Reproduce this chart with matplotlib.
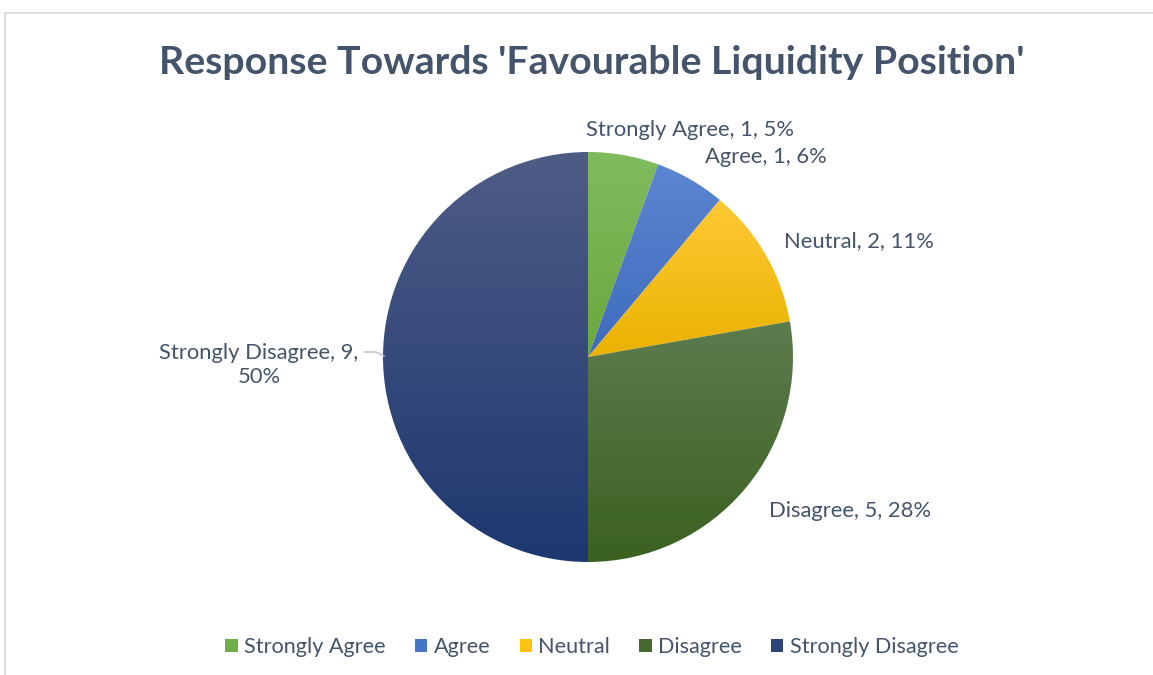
import numpy as np
import matplotlib
matplotlib.use("Agg")
import matplotlib.pyplot as plt
from matplotlib.colors import LinearSegmentedColormap
from matplotlib.patches import Patch
from matplotlib.lines import Line2D

# ---- data ----
categories = ["Strongly Agree", "Agree", "Neutral", "Disagree", "Strongly Disagree"]
counts = [1, 1, 2, 5, 9]
pct_labels = ["5%", "6%", "11%", "28%", "50%"]
title = "Response Towards 'Favourable Liquidity Position'"

# colours (top, bottom of gradient)
grad_top = ["#80bb5e", "#5c86d2", "#ffc936", "#5d7c4f", "#4f5c86"]
grad_bot = ["#6aa83f", "#3e6bbd", "#eab200", "#3b6120", "#1d3870"]
legend_cols = ["#72ae48", "#4674c6", "#fcc20e", "#47692f", "#2a4479"]

text_col = "#44546a"
FONT = "Lato"

W, H = 1153, 675
fig = plt.figure(figsize=(W / 100, H / 100), dpi=100)
ax = fig.add_axes([0, 0, 1, 1])

cx, cy, R = 588, H - 357, 205
wedges, _ = ax.pie(counts, startangle=90, counterclock=False,
                   center=(cx, cy), radius=R,
                   wedgeprops=dict(linewidth=0, edgecolor="none"))
ax.set_xlim(0, W)
ax.set_ylim(0, H)
ax.set_aspect("equal", adjustable="box")
ax.axis("off")

for w, ct, cb in zip(wedges, grad_top, grad_bot):
    w.set_facecolor("none")
    ext = w.get_path().get_extents(w.get_transform() - ax.transData)
    cmap = LinearSegmentedColormap.from_list("g", [cb, ct])
    grad = np.linspace(0, 1, 256).reshape(-1, 1)
    im = ax.imshow(grad, cmap=cmap, origin="lower", aspect="auto",
                   extent=[ext.x0, ext.x1, ext.y0, ext.y1], zorder=1,
                   interpolation="bilinear")
    im.set_clip_path(w)
ax.set_xlim(0, W)
ax.set_ylim(0, H)

# data labels
labels = [f"{c}, {n}, {p}" for c, n, p in zip(categories, counts, pct_labels)]
labels[4] = f"{categories[4]}, {counts[4]},\n{pct_labels[4]}"
label_pos = [(690, 130), (766, 157), (859, 241), (850, 511), (259, 365)]
for lab, (x, y) in zip(labels, label_pos):
    ax.text(x, H - y, lab, ha="center", va="center", fontsize=15.8,
            color=text_col, family=FONT, linespacing=1.3, zorder=5)

# leader line for Strongly Disagree
ax.plot([364, 376, 384], [H - 352, H - 352, H - 356], color="#b8bcc4",
        lw=1.0, zorder=4)

# title
fig.text(592 / W, 1 - 62 / H, title, ha="center", va="center",
         fontsize=28.3, fontweight="bold", color=text_col, family=FONT)

# legend
handles = [Patch(facecolor=c, edgecolor="none") for c in legend_cols]
leg = fig.legend(handles, categories, loc="center", ncol=5,
                 bbox_to_anchor=(592 / W, 1 - 647 / H), frameon=False,
                 prop=dict(family=FONT, size=15.6), handlelength=0.56,
                 handleheight=0.56, handletextpad=0.3, columnspacing=1.35)
for t in leg.get_texts():
    t.set_color(text_col)

# border
fig.add_artist(Line2D([5 / W, 1], [1 - 13 / H, 1 - 13 / H], color="#d9d9d9",
                      lw=1.2, transform=fig.transFigure))
fig.add_artist(Line2D([5 / W, 5 / W], [0, 1 - 13 / H], color="#d9d9d9",
                      lw=1.2, transform=fig.transFigure))

fig.savefig("out.png", dpi=100, facecolor="white")
